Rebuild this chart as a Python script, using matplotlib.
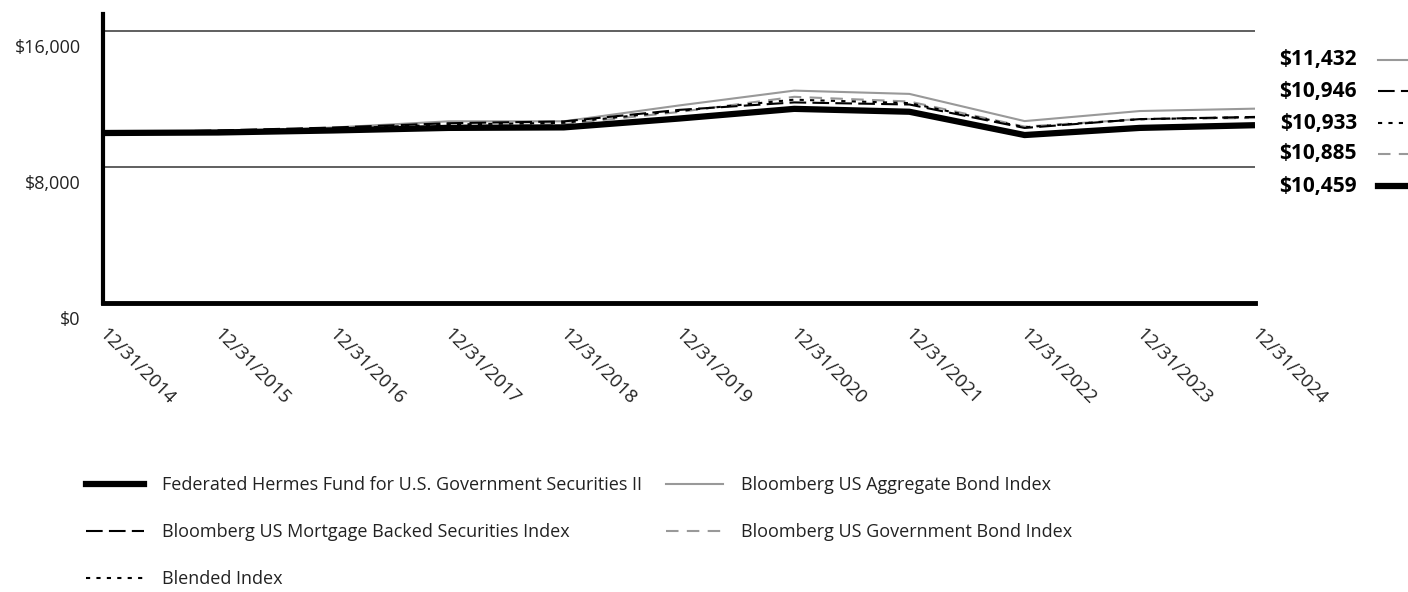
import matplotlib
matplotlib.use("Agg")
import matplotlib.pyplot as plt
import matplotlib.transforms as mtransforms
from matplotlib.lines import Line2D

plt.rcParams["font.family"] = ["Open Sans", "DejaVu Sans"]

years = ["12/31/2014", "12/31/2015", "12/31/2016", "12/31/2017", "12/31/2018",
         "12/31/2019", "12/31/2020", "12/31/2021", "12/31/2022", "12/31/2023",
         "12/31/2024"]

fund = [10000, 10030, 10150, 10300, 10330, 10850, 11420, 11250, 9880, 10300, 10459]
agg = [10000, 10055, 10322, 10687, 10688, 11620, 12493, 12300, 10700, 11292, 11432]
mbs = [10000, 10151, 10321, 10576, 10681, 11359, 11799, 11676, 10297, 10817, 10946]
gov = [10000, 10086, 10192, 10426, 10518, 11236, 12128, 11852, 10375, 10818, 10885]
blend = [10000, 10118, 10257, 10500, 10600, 11300, 11960, 11760, 10340, 10810, 10933]

names = ["Federated Hermes Fund for U.S. Government Securities II",
         "Bloomberg US Aggregate Bond Index",
         "Bloomberg US Mortgage Backed Securities Index",
         "Bloomberg US Government Bond Index",
         "Blended Index"]

yticks = [0, 8000, 16000]
ytick_labels = ["$0", "$8,000", "$16,000"]

styles = {
    "fund": dict(color="black", lw=4.5, ls="-"),
    "agg": dict(color="#999999", lw=1.5, ls="-"),
    "mbs": dict(color="black", lw=1.5, ls=(0, (8, 3))),
    "gov": dict(color="#999999", lw=1.5, ls=(0, (6, 4))),
    "blend": dict(color="black", lw=1.5, ls=(0, (2, 3))),
}

fig = plt.figure(figsize=(14.08, 5.92), dpi=100)
ax = fig.add_axes([103 / 1408, 1 - 303 / 592, (1255 - 103) / 1408, (303 - 14) / 592])

x = list(range(len(years)))
ax.plot(x, agg, **styles["agg"], zorder=3)
ax.plot(x, gov, **styles["gov"], zorder=3)
ax.plot(x, mbs, **styles["mbs"], zorder=4)
ax.plot(x, blend, **styles["blend"], zorder=4)
ax.plot(x, fund, **styles["fund"], zorder=5, solid_capstyle="butt")

ax.set_xlim(0, len(years) - 1)
ax.set_ylim(0, 17000)
ax.set_yticks(yticks)
ax.set_yticklabels(ytick_labels, fontsize=13, color="#222222")
ax.grid(axis="y", color="#444444", lw=1.2)
ax.set_axisbelow(True)
ax.tick_params(axis="y", length=0, pad=16)
off = mtransforms.ScaledTranslation(0, -15 / 100, fig.dpi_scale_trans)
for lab in ax.get_yticklabels():
    lab.set_transform(lab.get_transform() + off)

ax.set_xticks(x)
ax.set_xticklabels(years, rotation=-45, ha="left", va="top",
                   rotation_mode="anchor", fontsize=13.5, color="#222222")
ax.tick_params(axis="x", length=0, pad=16)
offx = mtransforms.ScaledTranslation(5 / 100, 0, fig.dpi_scale_trans)
for lab in ax.get_xticklabels():
    lab.set_transform(lab.get_transform() + offx)

for s in ["top", "right"]:
    ax.spines[s].set_visible(False)
ax.spines["left"].set_linewidth(3)
ax.spines["bottom"].set_linewidth(3.5)

# ending value labels on the right
end_vals = [("agg", agg[-1]), ("mbs", mbs[-1]), ("blend", blend[-1]),
            ("gov", gov[-1]), ("fund", fund[-1])]
label_y = [60, 91, 123, 154, 186]
for (key, val), py in zip(end_vals, label_y):
    yf = 1 - py / 592
    fig.text(1357 / 1408, yf, f"${val:,}", ha="right", va="center",
             fontsize=15, fontweight="bold", color="black")
    st = dict(styles[key])
    fig.add_artist(Line2D([1378 / 1408, 1.02], [yf, yf], transform=fig.transFigure,
                          color=st["color"], lw=st["lw"], ls=st["ls"]))

handles = [
    Line2D([], [], **styles["fund"]),
    Line2D([], [], **styles["mbs"]),
    Line2D([], [], **styles["blend"]),
    Line2D([], [], **styles["agg"]),
    Line2D([], [], **styles["gov"]),
]
labels = [names[0], names[2], names[4], names[1], names[3]]
fig.legend(handles, labels, loc="upper left", bbox_to_anchor=(70 / 1408, 1 - 460 / 592),
           ncol=2, frameon=False, fontsize=13, handlelength=3.2, handletextpad=1.0,
           labelspacing=1.6, columnspacing=1.3, labelcolor="#222222")

fig.savefig("out.png", dpi=100)
